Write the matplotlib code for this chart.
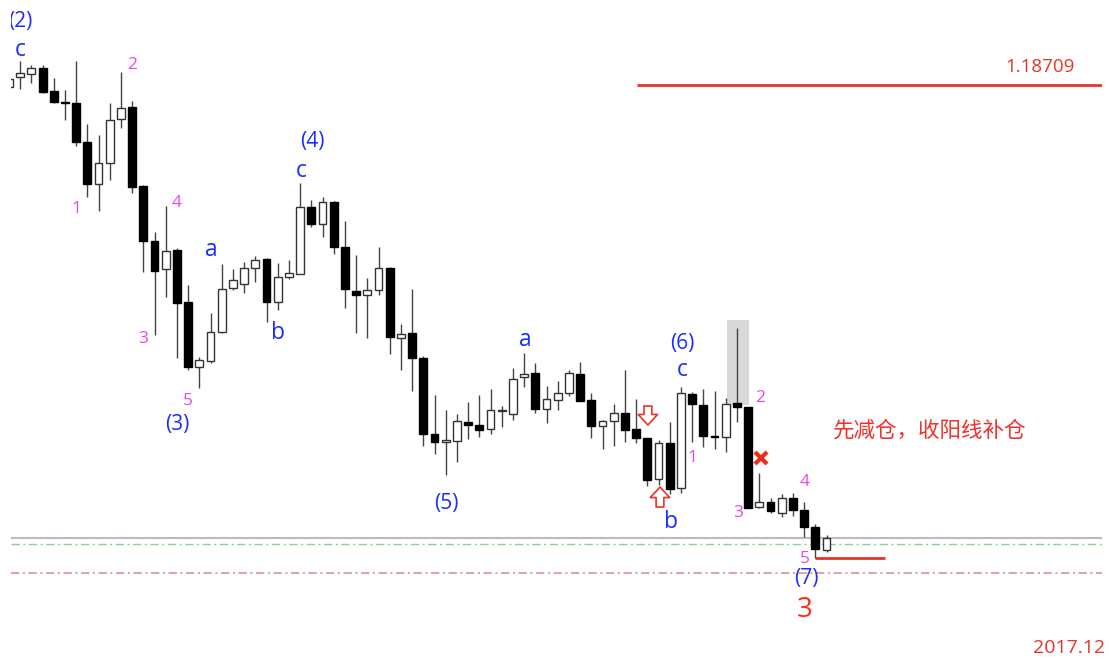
import numpy as np
import matplotlib
matplotlib.use("Agg")
import matplotlib.pyplot as plt

plt.rcParams['font.family'] = ['Open Sans', 'Noto Sans CJK SC', 'DejaVu Sans']

# OHLC (price scale anchored on the 1.18709 line)
opens = [1.18707, 1.18717, 1.18720, 1.18726, 1.18703, 1.18692, 1.18691, 1.18652, 1.18610, 1.18631,
         1.18675, 1.18687, 1.18608, 1.18553, 1.18525, 1.18544, 1.18492, 1.18427, 1.18433, 1.18462,
         1.18506, 1.18510, 1.18526, 1.18535, 1.18492, 1.18517, 1.18520, 1.18587, 1.18570, 1.18592,
         1.18547, 1.18503, 1.18499, 1.18504, 1.18526, 1.18456, 1.18461, 1.18436, 1.18360, 1.18352,
         1.18353, 1.18372, 1.18369, 1.18365, 1.18383, 1.18380, 1.18417, 1.18421, 1.18385, 1.18394,
         1.18401, 1.18420, 1.18394, 1.18368, 1.18373, 1.18381, 1.18365, 1.18356, 1.18315, 1.18351,
         1.18306, 1.18400, 1.18389, 1.18358, 1.18357, 1.18391, 1.18387, 1.18287, 1.18292, 1.18281,
         1.18296, 1.18284, 1.18267, 1.18244]
highs = [1.18719, 1.18733, 1.18729, 1.18729, 1.18716, 1.18704, 1.18733, 1.18670, 1.18659, 1.18691,
         1.18722, 1.18693, 1.18609, 1.18562, 1.18588, 1.18546, 1.18509, 1.18437, 1.18481, 1.18530,
         1.18525, 1.18532, 1.18538, 1.18536, 1.18531, 1.18534, 1.18611, 1.18594, 1.18597, 1.18593,
         1.18573, 1.18539, 1.18516, 1.18547, 1.18527, 1.18470, 1.18505, 1.18438, 1.18399, 1.18384,
         1.18380, 1.18392, 1.18399, 1.18405, 1.18388, 1.18426, 1.18441, 1.18431, 1.18408, 1.18413,
         1.18424, 1.18432, 1.18401, 1.18374, 1.18390, 1.18424, 1.18395, 1.18356, 1.18354, 1.18372,
         1.18407, 1.18402, 1.18405, 1.18403, 1.18396, 1.18466, 1.18387, 1.18321, 1.18296, 1.18300,
         1.18301, 1.18292, 1.18270, 1.18259]
lows = [1.18704, 1.18705, 1.18711, 1.18701, 1.18691, 1.18674, 1.18648, 1.18597, 1.18583, 1.18614,
        1.18666, 1.18601, 1.18522, 1.18459, 1.18497, 1.18436, 1.18424, 1.18406, 1.18431, 1.18461,
        1.18504, 1.18501, 1.18512, 1.18472, 1.18484, 1.18515, 1.18520, 1.18567, 1.18557, 1.18540,
        1.18486, 1.18461, 1.18456, 1.18499, 1.18440, 1.18424, 1.18403, 1.18348, 1.18340, 1.18319,
        1.18332, 1.18355, 1.18357, 1.18360, 1.18367, 1.18374, 1.18407, 1.18381, 1.18371, 1.18384,
        1.18398, 1.18393, 1.18356, 1.18345, 1.18348, 1.18352, 1.18351, 1.18308, 1.18309, 1.18300,
        1.18301, 1.18352, 1.18347, 1.18345, 1.18342, 1.18372, 1.18286, 1.18286, 1.18281, 1.18277,
        1.18278, 1.18257, 1.18236, 1.18242]
closes = [1.18715, 1.18721, 1.18726, 1.18702, 1.18692, 1.18691, 1.18652, 1.18610, 1.18631, 1.18674,
          1.18686, 1.18607, 1.18553, 1.18523, 1.18543, 1.18491, 1.18427, 1.18434, 1.18462, 1.18505,
          1.18514, 1.18526, 1.18534, 1.18492, 1.18517, 1.18521, 1.18587, 1.18570, 1.18592, 1.18547,
          1.18505, 1.18499, 1.18504, 1.18526, 1.18457, 1.18460, 1.18436, 1.18360, 1.18352, 1.18354,
          1.18373, 1.18369, 1.18364, 1.18384, 1.18384, 1.18415, 1.18420, 1.18385, 1.18395, 1.18401,
          1.18421, 1.18393, 1.18368, 1.18373, 1.18381, 1.18364, 1.18356, 1.18314, 1.18351, 1.18305,
          1.18401, 1.18390, 1.18358, 1.18357, 1.18390, 1.18387, 1.18286, 1.18292, 1.18283, 1.18296,
          1.18284, 1.18267, 1.18245, 1.18256]

# horizontal levels
resist_level = 1.18709
last_price = 1.18256
green_level = 1.18250
red_level = 1.18221

# wave labels: text, candle index, price (baseline)
blue_labels = [("(2)", 0.98, 1.18767), ("c", 1.03, 1.18738), ("a", 18.04, 1.18538),
               ("b", 24.02, 1.18455), ("(3)", 15.0, 1.18364), ("(4)", 27.05, 1.18647),
               ("c", 26.07, 1.18617), ("(5)", 39.02, 1.18285), ("a", 46.07, 1.18448),
               ("(6)", 60.13, 1.18445), ("c", 60.09, 1.18418), ("b", 59.1, 1.18266),
               ("(7)", 71.16, 1.18210)]
pink_labels = [("2", 10.98, 1.18725), ("1", 5.98, 1.18581), ("4", 15.0, 1.18587),
               ("3", 11.96, 1.18451), ("5", 15.98, 1.18389), ("1", 61.07, 1.18332),
               ("2", 67.05, 1.18392), ("3", 65.09, 1.18277), ("4", 71.07, 1.18308),
               ("5", 71.07, 1.18231)]

n = len(opens)
idx = np.arange(n)
o = np.array(opens); h = np.array(highs); l = np.array(lows); c = np.array(closes)
up = c >= o

fig = plt.figure(figsize=(11.09, 6.59), dpi=100)
ax = fig.add_axes([11 / 1109, 0, 1091 / 1109, 1])
ax.set_xlim(0.18, 97.6)
ax.set_ylim(1.18135, 1.18794)
ax.axis('off')

# grey highlight box around the spike
ax.fill_between([64.1, 66.1], 1.18389, 1.18474, color='#d9d9d9', lw=0, zorder=1)

# levels
ax.axhline(last_price, color='#b4bccb', lw=1.5, zorder=1)
ax.axhline(green_level, color='#8fd18f', lw=1.0, ls=(0, (6, 2.5, 1.5, 2.5)), zorder=1)
ax.axhline(red_level, color='#e0a5a5', lw=1.5, ls=(0, (4, 1.7, 1, 1.7)), zorder=1)
ax.hlines(resist_level, 56.07, 97.6, color='#e8332a', lw=2, zorder=2)
ax.hlines(lows[72], 72, 78.2, color='#e8332a', lw=2, zorder=2)

# candles
ax.vlines(idx, l, h, color='#444444', lw=1, zorder=2)
body_lo = np.minimum(o, c)
body_h = np.maximum(np.abs(c - o), 0.000008)
ax.bar(idx[up], body_h[up], bottom=body_lo[up], width=0.7, color='white',
       edgecolor='#333333', lw=1, zorder=3)
ax.bar(idx[~up], body_h[~up], bottom=body_lo[~up], width=0.7, color='black',
       edgecolor='black', lw=1, zorder=3)

# labels
for t, x, y in blue_labels:
    ax.text(x, y, t, color='#1a2cff', fontsize=16.5 if t[0] != '(' else 15,
            ha='center', va='baseline', clip_on=True, zorder=5)
for t, x, y in pink_labels:
    ax.text(x, y, t, color='#e44ae4', fontsize=12.5, ha='center', va='baseline', zorder=5)

ax.text(71.07, 1.18177, "3", color='#ff2a1a', fontsize=20, ha='center', va='baseline')
ax.plot([67.14], [1.18336], marker='x', ms=9, mew=3, color='#ee2a1a', zorder=6)

# hollow red arrows
arrow = dict(arrowstyle='simple,head_width=0.7,head_length=0.38,tail_width=0.28',
             fc='white', ec='#e8332a', lw=1.2, mutation_scale=20, shrinkA=0, shrinkB=0)
ax.annotate('', xy=(57.05, 1.18369), xytext=(57.05, 1.18388), arrowprops=arrow, zorder=6)
ax.annotate('', xy=(58.13, 1.18307), xytext=(58.13, 1.18287), arrowprops=arrow, zorder=6)

ax.text(73.57, 1.18357, "先减仓，收阳线补仓", color='#f0302a', fontsize=15.5,
        family=['Noto Sans CJK SC', 'DejaVu Sans'], ha='left', va='baseline')
ax.text(88.93, 1.18722, "1.18709", color='#e8332a', fontsize=13.5, ha='left', va='baseline')
ax.text(91.4, 1.18141, "2017.12", color='#e8332a', fontsize=14, ha='left', va='baseline',
        clip_on=False)

fig.savefig("out.png", dpi=100)
